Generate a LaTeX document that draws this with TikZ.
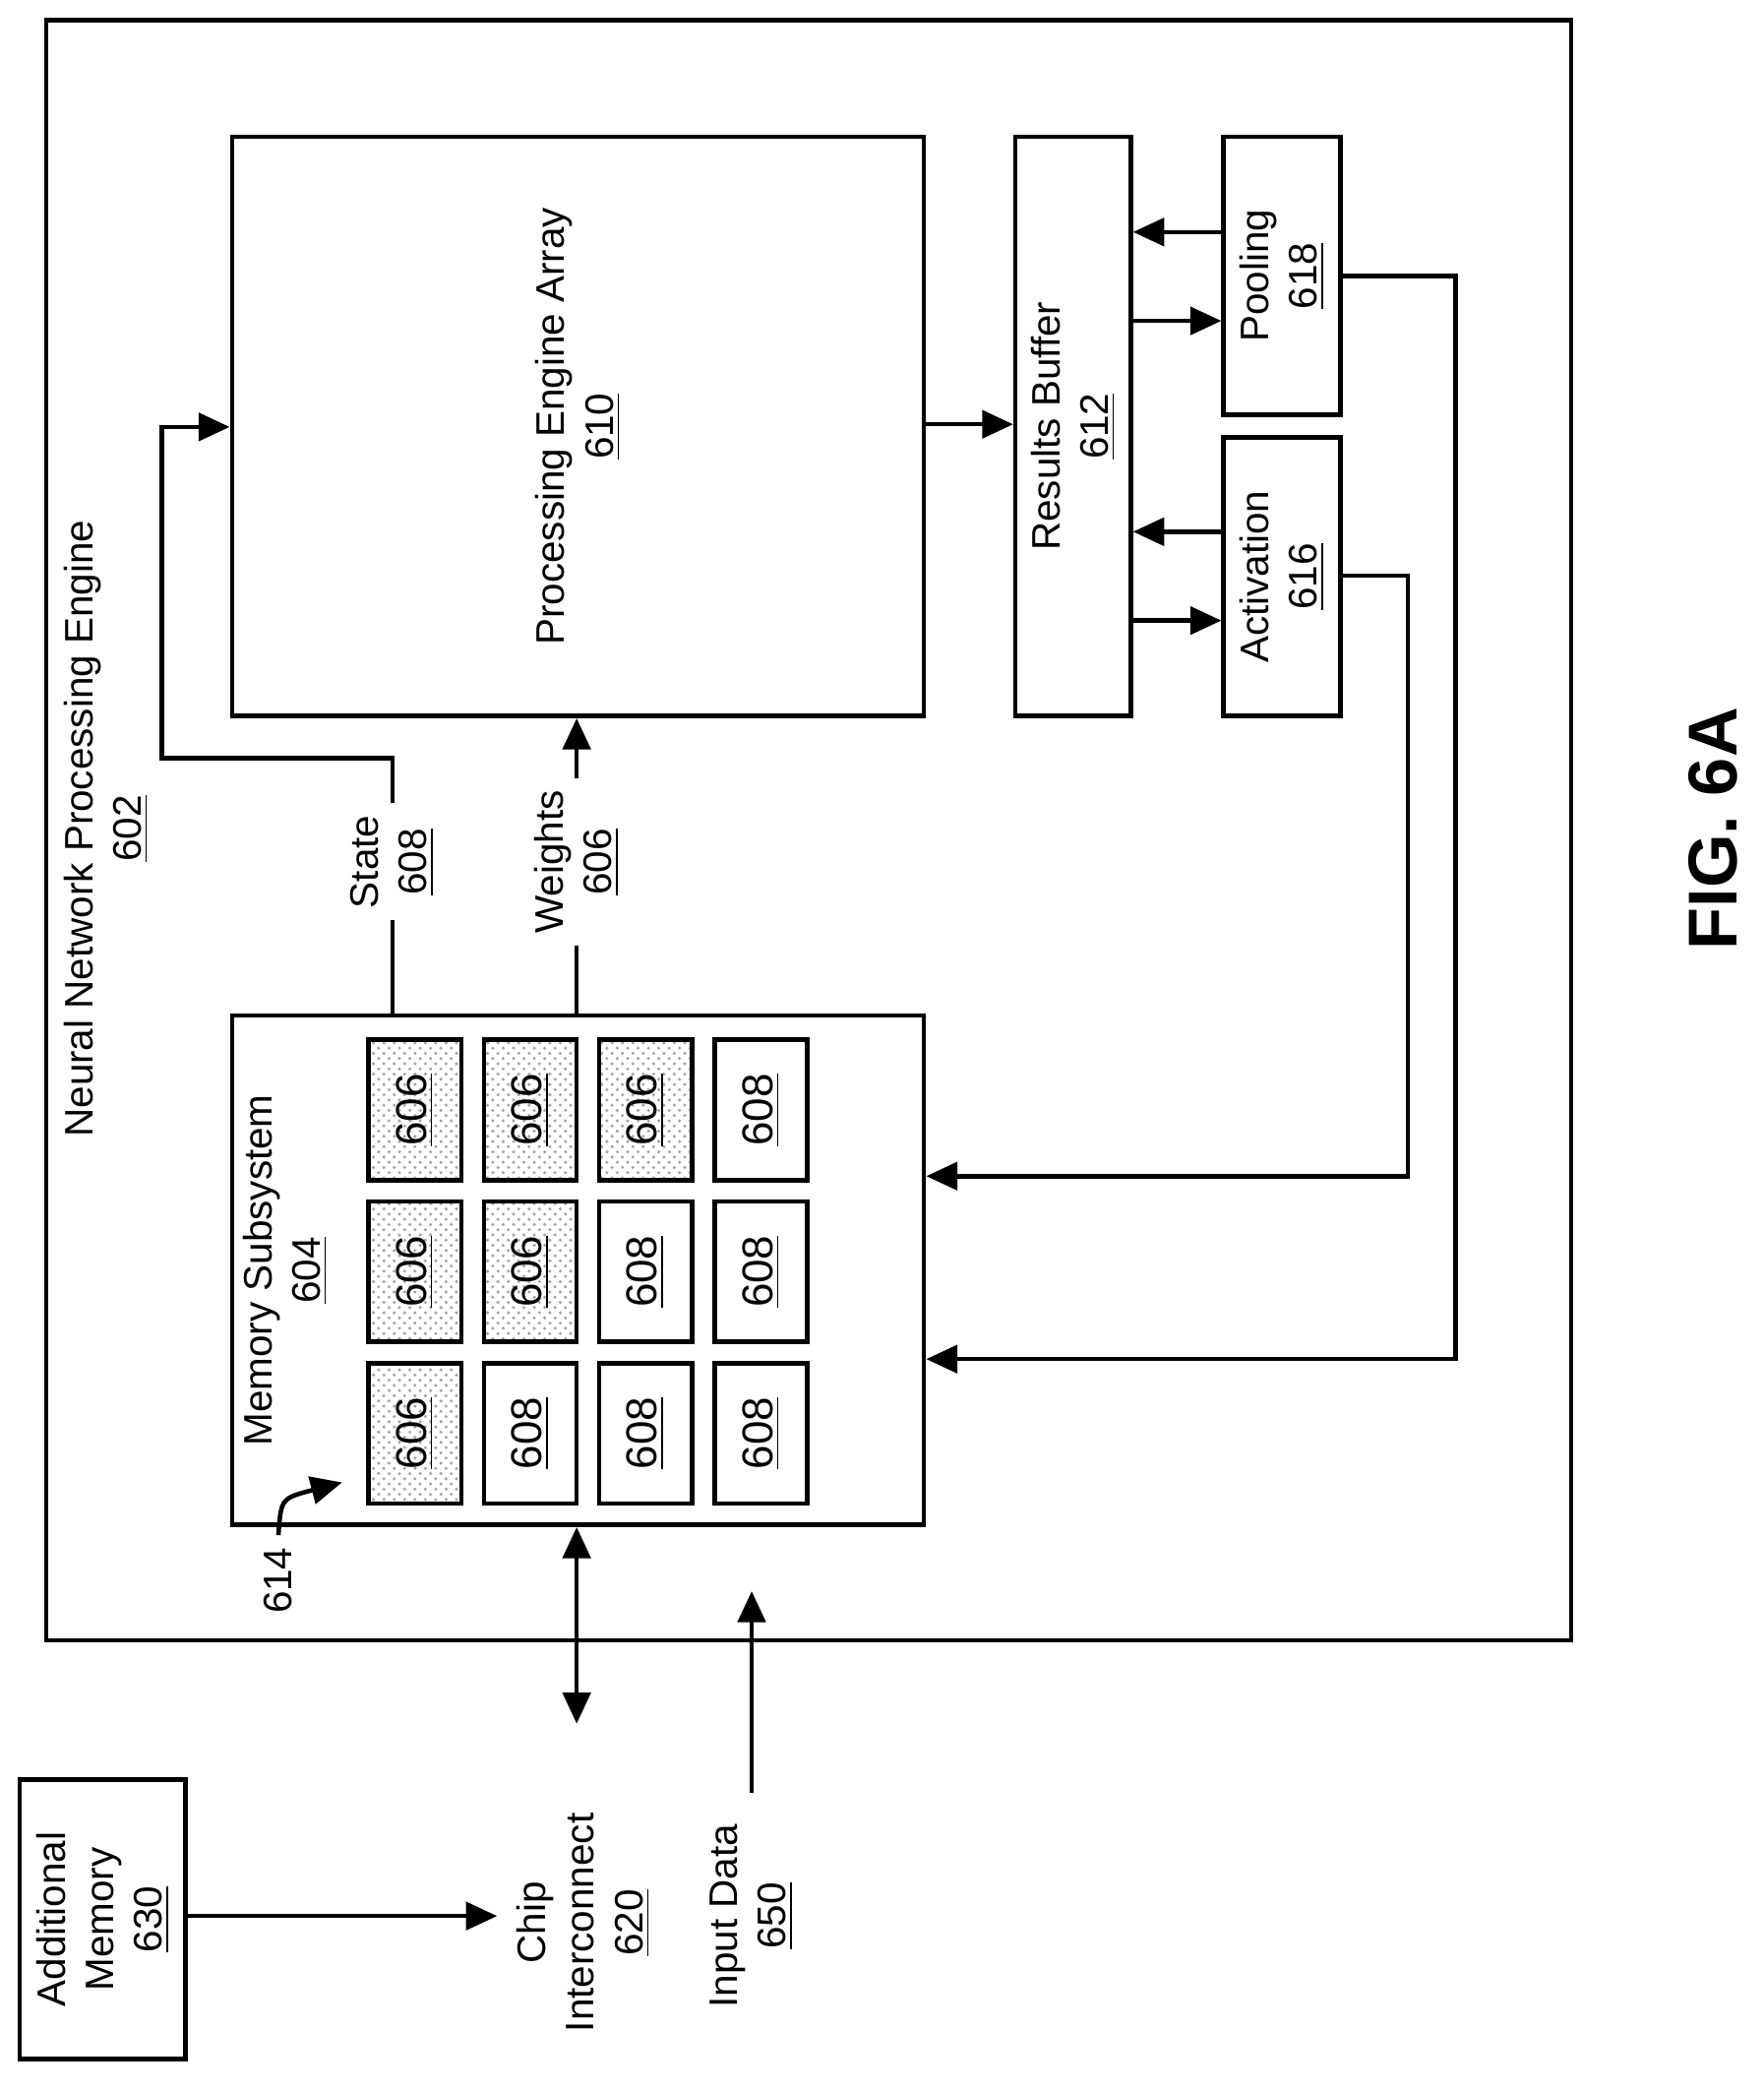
\documentclass[tikz,border=0pt]{standalone}
\usepackage{fontspec}
\setmainfont{Liberation Sans}
\usetikzlibrary{fit,arrows.meta,patterns}

\tikzset{
  box/.style={draw,line width=1.3pt,inner sep=0pt},
  cell/.style={box,fill=white},
  hatched/.style={box,pattern=crosshatch dots,pattern color=gray!70},
  lbl/.style={rotate=90,align=center,font=\fontsize{11.5}{14}\selectfont},
  wire/.style={line width=1.3pt},
  arr/.style={wire,-{Triangle[length=9pt,width=8pt]}},
  darr/.style={wire,{Triangle[length=9pt,width=8pt]}-{Triangle[length=9pt,width=8pt]}}
}

\begin{document}
\begin{tikzpicture}[x=0.01347cm,y=-0.01347cm]
  \useasboundingbox (0,0) rectangle (1330,1577);

  % Neural network processing engine
  \node[box,fit={(35,15) (1185,1237)}] (nnpe) {};
  \node[lbl] (nnpelbl) at (80,625) {Neural Network Processing Engine\\\underline{602}};

  % Processing engine array
  \node[box,fit={(175,103) (697,540)}] (pea) {};
  \node[lbl] at (pea.center) {Processing Engine Array\\\underline{610}};

  % Results buffer, pooling, activation
  \node[box,fit={(766,103) (853,540)}] (rb) {};
  \node[lbl] at (rb.center) {Results Buffer\\\underline{612}};
  \node[box,fit={(923,103) (1011,313)}] (pool) {};
  \node[lbl] at (pool.center) {Pooling\\\underline{618}};
  \node[box,fit={(923,330) (1011,540)}] (act) {};
  \node[lbl] at (act.center) {Activation\\\underline{616}};

  % Memory subsystem
  \node[box,fit={(175,766) (697,1150)}] (mem) {};
  \node[lbl] (memlbl) at (215,958) {Memory Subsystem\\\underline{604}};
  \foreach \c/\r/\t/\s in {278/784/606/hatched,365/784/606/hatched,452/784/606/hatched,539/784/608/cell,
                           278/906/606/hatched,365/906/606/hatched,452/906/608/cell,539/906/608/cell,
                           278/1028/606/hatched,365/1028/608/cell,452/1028/608/cell,539/1028/608/cell}{
    \node[\s,fit={(\c,\r) (\c+70,\r+106)}] (m\c\r) {};
    \node[lbl,font=\fontsize{12.5}{14}\selectfont] at (m\c\r.center) {\underline{\t}};
  }

  % State and weights
  \node[lbl] (state) at (296,650) {State\\\underline{608}};
  \node[lbl] (weights) at (435,650) {Weights\\\underline{606}};
  \draw[wire] (mem.north -| state) -- (state.west);
  \draw[arr] (state.east) -- (296,572) -- (122,572) -- (122,322) -- (pea.west |- 0,322);
  \draw[wire] (mem.north -| weights) -- (weights.west);
  \draw[arr] (weights.east) -- (pea.south -| weights);

  % Results path
  \draw[arr] (pea.east |- 0,320) -- (rb.west |- 0,320);
  \draw[arr] (pool.west |- 0,175) -- (rb.east |- 0,175);
  \draw[arr] (rb.east |- 0,242) -- (pool.west |- 0,242);
  \draw[arr] (act.west |- 0,401) -- (rb.east |- 0,401);
  \draw[arr] (rb.east |- 0,468) -- (act.west |- 0,468);
  \draw[arr] (pool.east |- 0,208) -- (1098,208) -- (1098,1025) -- (mem.east |- 0,1025);
  \draw[arr] (act.east |- 0,434) -- (1062,434) -- (1062,887) -- (mem.east |- 0,887);

  % 614
  \node[lbl] (l614) at (210,1192) {614};
  \draw[arr] (l614.east) .. controls (212,1130) .. (258,1118);

  % External
  \node[lbl] (chip) at (440,1450) {Chip\\Interconnect\\\underline{620}};
  \draw[darr] (mem.south -| 435,0) -- (435,1300);
  \node[lbl] (input) at (567,1445) {Input Data\\\underline{650}};
  \draw[arr] (input.east |- 0,1352) -- (567,1200);
  \node[box,fit={(15,1342) (140,1553)}] (addmem) {};
  \node[lbl] at (addmem.center) {Additional\\Memory\\\underline{630}};
  \draw[arr] (addmem.east |- 0,1445) -- (375,1445);

  \node[rotate=90,font=\bfseries\fontsize{20}{24}\selectfont] (fig) at (1292,625) {FIG. 6A};
\end{tikzpicture}
\end{document}
